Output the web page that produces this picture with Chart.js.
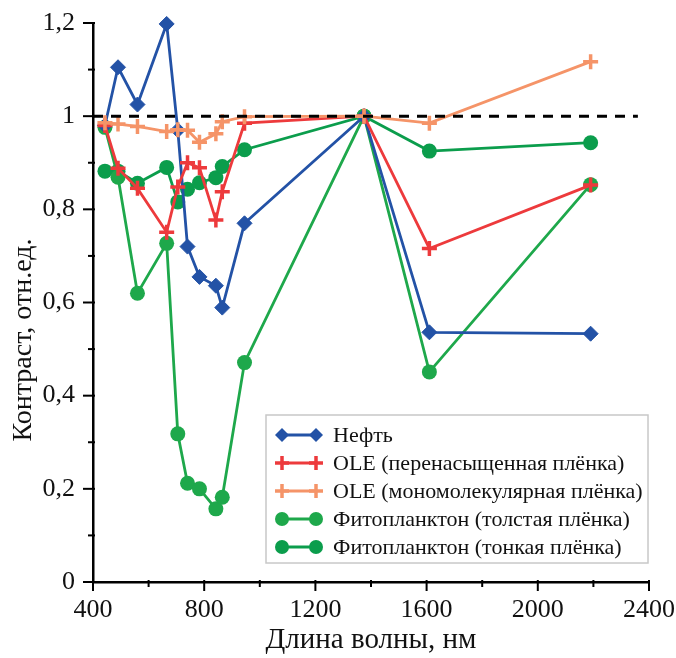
<!DOCTYPE html>
<html>
<head>
<meta charset="utf-8">
<script src="https://cdn.jsdelivr.net/npm/chart.js@4.4.1/dist/chart.umd.min.js"></script>
<style>
  html, body { margin: 0; padding: 0; background: #fff; }
  #wrap { width: 676px; height: 658px; }
</style>
</head>
<body>
<div id="wrap"><canvas id="myChart" width="676" height="658"></canvas></div>
<script>
// длины волн (нм) - каналы Sentinel-2
const wavelengths = [443, 490, 560, 665, 705, 740, 783, 842, 865, 945, 1375, 1610, 2190];

const oil = [0.98, 1.105, 1.025, 1.198, 0.97, 0.72, 0.655, 0.636, 0.589, 0.77, 1.0, 0.536, 0.533];
const oleSaturated = [0.98, 0.888, 0.845, 0.751, 0.848, 0.9, 0.889, 0.777, 0.838, 0.985, 1.0, 0.716, 0.852];
const oleMono = [0.986, 0.983, 0.978, 0.967, 0.971, 0.97, 0.944, 0.962, 0.988, 0.999, 1.0, 0.985, 1.117];
const phytoThick = [0.976, 0.869, 0.62, 0.727, 0.318, 0.212, 0.2, 0.157, 0.182, 0.471, 1.0, 0.451, 0.853];
const phytoThin = [0.882, 0.882, 0.856, 0.89, 0.816, 0.843, 0.857, 0.868, 0.892, 0.928, 1.0, 0.925, 0.943];

const refX = [400, 2360];
const refY = [1, 1];

const xTicks = [400, 800, 1200, 1600, 2000, 2400];
const yTicks = [0, 0.2, 0.4, 0.6, 0.8, 1.0, 1.2];

function pts(ys) {
    return ys.map((y, i) => ({ x: wavelengths[i], y: y }));
}

const font = "'Liberation Serif', 'Times New Roman', serif";

function marker(c, style, px, y, r, color, bw) {
    c.fillStyle = color;
    c.strokeStyle = color;
    c.lineWidth = bw;
    c.beginPath();
    if (style === 'circle') {
        c.arc(px, y, r, 0, Math.PI * 2);
        c.fill();
    } else if (style === 'rectRot') {
        c.moveTo(px, y - r); c.lineTo(px + r, y); c.lineTo(px, y + r); c.lineTo(px - r, y);
        c.closePath();
        c.fill();
    } else {
        c.moveTo(px - r, y); c.lineTo(px + r, y);
        c.moveTo(px, y - r); c.lineTo(px, y + r);
        c.stroke();
    }
}

// засечки, подпись оси Y и легенда
const extras = {
    id: 'extras',
    afterDraw(chart) {
        const c = chart.ctx;
        const xs = chart.scales.x, ys = chart.scales.y;
        const area = chart.chartArea;
        c.save();
        c.strokeStyle = '#000';
        c.lineWidth = 2;
        for (let v = 400; v <= 2400; v += 200) {
            const px = xs.getPixelForValue(v);
            const major = v % 400 === 0;
            c.beginPath();
            c.moveTo(px, area.bottom - 2);
            c.lineTo(px, area.bottom + (major ? 9 : 5));
            c.stroke();
        }
        for (let i = 0; i <= 12; i++) {
            const py = ys.getPixelForValue(i / 10);
            const major = i % 2 === 0;
            c.beginPath();
            c.moveTo(area.left + 2, py);
            c.lineTo(area.left - (major ? 10 : 5), py);
            c.stroke();
        }

        // подпись оси Y
        c.fillStyle = '#111';
        c.font = '28px ' + font;
        c.textAlign = 'center';
        c.textBaseline = 'middle';
        c.translate(24, 340);
        c.rotate(-Math.PI / 2);
        c.fillText('Контраст, отн.ед.', 0, 0);
        c.restore();

        // легенда
        c.save();
        const bx = 266, by = 415, bw = 382, bh = 148;
        c.fillStyle = '#fff';
        c.fillRect(bx, by, bw, bh);
        c.strokeStyle = '#c8c8c8';
        c.lineWidth = 1.5;
        c.strokeRect(bx, by, bw, bh);
        const items = chart.data.datasets.filter(d => d.label);
        c.font = '22px ' + font;
        c.textAlign = 'left';
        c.textBaseline = 'middle';
        items.forEach((d, i) => {
            const y = 435 + i * 28;
            c.strokeStyle = d.borderColor;
            c.lineWidth = 3;
            c.beginPath();
            c.moveTo(282, y);
            c.lineTo(316, y);
            c.stroke();
            marker(c, d.pointStyle, 282, y, d.legendRadius, d.borderColor, d.pointBorderWidth);
            marker(c, d.pointStyle, 316, y, d.legendRadius, d.borderColor, d.pointBorderWidth);
            c.fillStyle = '#111';
            c.fillText(d.label, 333, y + 1);
        });
        c.restore();
    }
};

function noPad(s) {
    s.paddingTop = 0;
    s.paddingBottom = 0;
    s.paddingLeft = 0;
    s.paddingRight = 0;
}

const ctx = document.getElementById('myChart').getContext('2d');

new Chart(ctx, {
    type: 'line',
    data: {
        datasets: [
            {
                label: 'Нефть',
                data: pts(oil),
                borderColor: '#2352a6',
                backgroundColor: '#2352a6',
                borderWidth: 2.8,
                pointStyle: 'rectRot',
                pointRadius: 7.5,
                pointBorderWidth: 1,
                legendRadius: 7,
                order: 2
            },
            {
                label: 'OLE (перенасыщенная плёнка)',
                data: pts(oleSaturated),
                borderColor: '#ed3a3c',
                backgroundColor: '#ed3a3c',
                borderWidth: 2.8,
                pointStyle: 'cross',
                pointRadius: 7.5,
                pointBorderWidth: 3.5,
                legendRadius: 7,
                order: 1
            },
            {
                label: 'OLE (мономолекулярная плёнка)',
                data: pts(oleMono),
                borderColor: '#f59468',
                backgroundColor: '#f59468',
                borderWidth: 2.8,
                pointStyle: 'cross',
                pointRadius: 7.5,
                pointBorderWidth: 3.5,
                legendRadius: 7,
                order: 0
            },
            {
                label: 'Фитопланктон (толстая плёнка)',
                data: pts(phytoThick),
                borderColor: '#1ea84b',
                backgroundColor: '#1ea84b',
                borderWidth: 2.8,
                pointStyle: 'circle',
                pointRadius: 7.5,
                pointBorderWidth: 0,
                legendRadius: 7,
                order: 3
            },
            {
                label: 'Фитопланктон (тонкая плёнка)',
                data: pts(phytoThin),
                borderColor: '#0b9d4c',
                backgroundColor: '#0b9d4c',
                borderWidth: 2.8,
                pointStyle: 'circle',
                pointRadius: 7.5,
                pointBorderWidth: 0,
                legendRadius: 7,
                order: 4
            },
            {
                data: refX.map((x, i) => ({ x: x, y: refY[i] })),
                borderColor: '#000',
                borderWidth: 3,
                borderDash: [10, 8],
                pointRadius: 0,
                order: -1
            }
        ]
    },
    options: {
        responsive: false,
        animation: false,
        clip: false,
        layout: { padding: { top: 23, right: 27, left: 0, bottom: 0 } },
        plugins: {
            legend: { display: false },
            tooltip: { enabled: false }
        },
        scales: {
            x: {
                type: 'linear',
                min: 400,
                max: 2400,
                afterBuildTicks: s => { s.ticks = xTicks.map(v => ({ value: v })); },
                ticks: {
                    color: '#111',
                    font: { family: font, size: 26 },
                    padding: 13,
                    maxRotation: 0,
                    callback: v => String(v)
                },
                grid: { drawOnChartArea: false, drawTicks: false },
                border: { color: '#000', width: 2.5 },
                title: {
                    display: true,
                    text: 'Длина волны, нм',
                    color: '#111',
                    font: { family: font, size: 29 },
                    padding: { top: 0, bottom: 0 }
                },
                afterFit: s => { s.height = 76; noPad(s); }
            },
            y: {
                type: 'linear',
                min: 0,
                max: 1.2,
                afterBuildTicks: s => { s.ticks = yTicks.map(v => ({ value: v })); },
                ticks: {
                    color: '#111',
                    font: { family: font, size: 26 },
                    padding: 18,
                    callback: v => (Math.round(v * 10) / 10).toString().replace('.', ',')
                },
                grid: { drawOnChartArea: false, drawTicks: false },
                border: { color: '#000', width: 2.5 },
                afterFit: s => { s.width = 93; noPad(s); }
            }
        }
    },
    plugins: [extras]
});
</script>
</body>
</html>
